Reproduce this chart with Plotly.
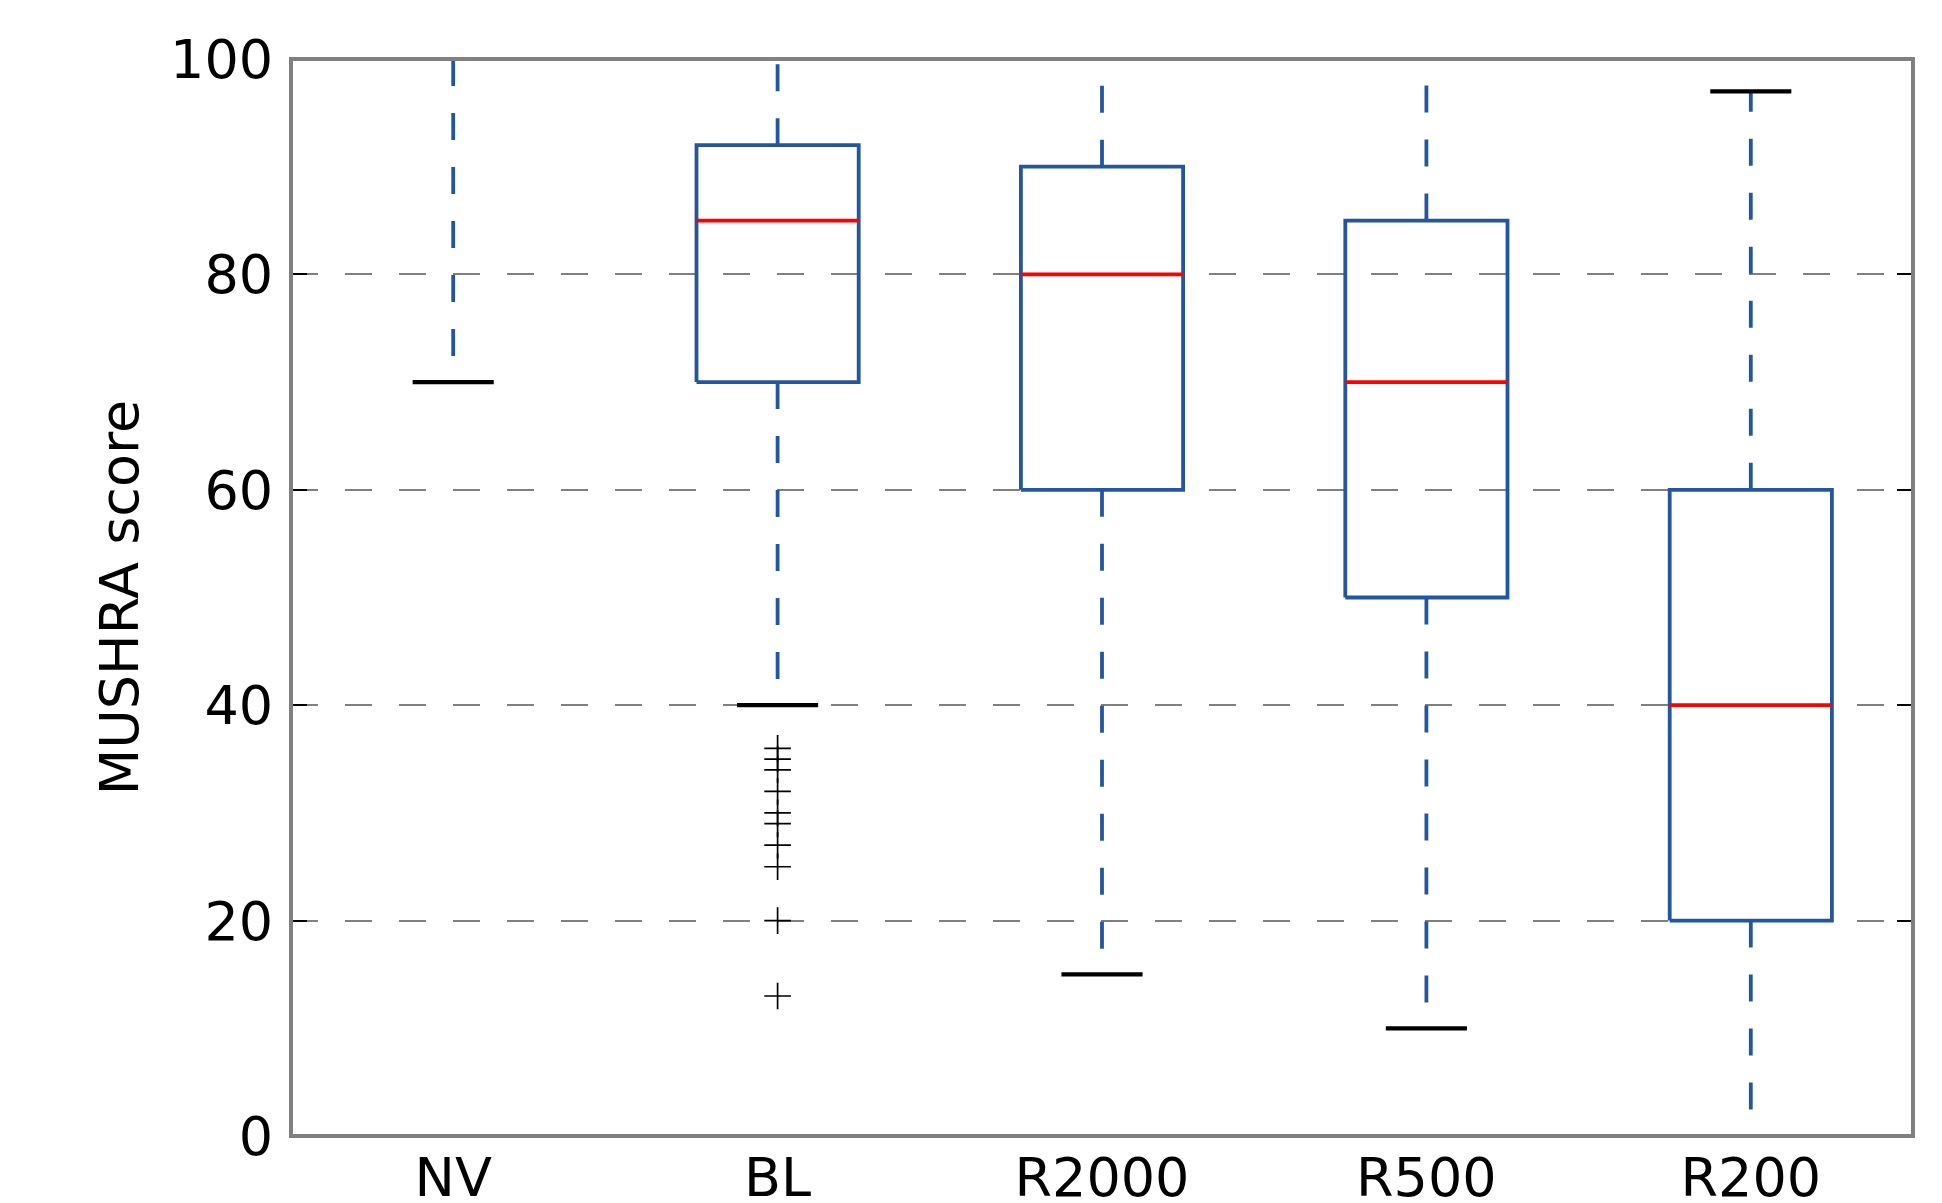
import plotly.graph_objects as go

# ---- data ----
categories = ["NV", "BL", "R2000", "R500", "R200"]
q1 = [100, 70, 60, 50, 20]
median = [100, 85, 80, 70, 40]
q3 = [100, 92, 90, 85, 60]
whisker_low = [70, 40, 15, 10, 0]
whisker_high = [100, 100, 100, 100, 97]
bl_outliers = [36, 35, 34, 32, 30, 29, 27, 25, 20, 13]
y_ticks = [0, 20, 40, 60, 80, 100]

# ---- style ----
BLUE = "#24569f"
RED = "#ff0000"
BLACK = "#000000"
GREY = "#808080"
LW = 3.8
CAP_LW = 4.2
BOX_HALF = 0.25
CAP_HALF = 0.125
FONT = "DejaVu Sans"
FS = 54

positions = list(range(1, len(categories) + 1))

fig = go.Figure()

# whiskers (each separately so dash pattern starts at the box edge)
for p, lo, hi, a, b in zip(positions, whisker_low, whisker_high, q1, q3):
    for start, end in ((a, lo), (b, hi)):
        if start == end:
            continue
        fig.add_trace(go.Scatter(
            x=[p, p], y=[start, end], mode="lines",
            line=dict(color=BLUE, width=LW, dash="27px,27px"),
            hoverinfo="skip", showlegend=False))

# caps
cx, cy = [], []
for p, lo, hi in zip(positions, whisker_low, whisker_high):
    for v in (lo, hi):
        cx += [p - CAP_HALF, p + CAP_HALF, None]
        cy += [v, v, None]
fig.add_trace(go.Scatter(x=cx, y=cy, mode="lines",
                         line=dict(color=BLACK, width=CAP_LW),
                         hoverinfo="skip", showlegend=False))

# boxes
bx, by = [], []
for p, a, b in zip(positions, q1, q3):
    bx += [p - BOX_HALF, p + BOX_HALF, p + BOX_HALF, p - BOX_HALF, p - BOX_HALF, None]
    by += [a, a, b, b, a, None]
fig.add_trace(go.Scatter(x=bx, y=by, mode="lines",
                         line=dict(color=BLUE, width=LW),
                         hoverinfo="skip", showlegend=False))

# medians
mx, my = [], []
for p, m in zip(positions, median):
    mx += [p - BOX_HALF, p + BOX_HALF, None]
    my += [m, m, None]
fig.add_trace(go.Scatter(x=mx, y=my, mode="lines",
                         line=dict(color=RED, width=LW),
                         hoverinfo="skip", showlegend=False))

# outliers
fig.add_trace(go.Scatter(
    x=[positions[categories.index("BL")]] * len(bl_outliers), y=bl_outliers,
    mode="markers",
    marker=dict(symbol="cross-thin", size=19, color=BLACK,
                line=dict(color=BLACK, width=1.7)),
    hoverinfo="skip", showlegend=False))

# frame (spines) centred on plot edges, above traces
fig.add_shape(type="rect", xref="paper", yref="paper", x0=0, x1=1, y0=0, y1=1,
              line=dict(color=GREY, width=4), layer="above")

fig.update_layout(
    width=1942, height=1203,
    margin=dict(l=291, r=29, t=59, b=67, autoexpand=False),
    paper_bgcolor="white", plot_bgcolor="white",
    font=dict(family=FONT, size=FS, color=BLACK),
    showlegend=False,
)
fig.update_xaxes(
    range=[0.5, len(categories) + 0.5],
    tickmode="array", tickvals=positions, ticktext=categories,
    ticks="", showgrid=False, zeroline=False, showline=False,
    tickfont=dict(family=FONT, size=FS, color=BLACK),
    automargin=False, ticklabelstandoff=5,
)
fig.update_yaxes(
    range=[0, 100],
    tickmode="array", tickvals=y_ticks, ticktext=[str(v) for v in y_ticks],
    ticks="inside", ticklen=16, tickwidth=1.6, tickcolor=BLACK,
    showline=True, linecolor=GREY, linewidth=1, mirror="ticks",
    showgrid=True, gridcolor=GREY, gridwidth=1.5, griddash="27px,27px",
    zeroline=False,
    tickfont=dict(family=FONT, size=FS, color=BLACK),
    title=dict(text="MUSHRA score", font=dict(family=FONT, size=FS, color=BLACK),
               standoff=14),
    automargin=False, ticklabelstandoff=6,
)

fig.write_html(
    "out.html",
    config={"displayModeBar": False},
    post_script="document.body.style.margin='0';document.body.style.overflow='hidden';",
)
